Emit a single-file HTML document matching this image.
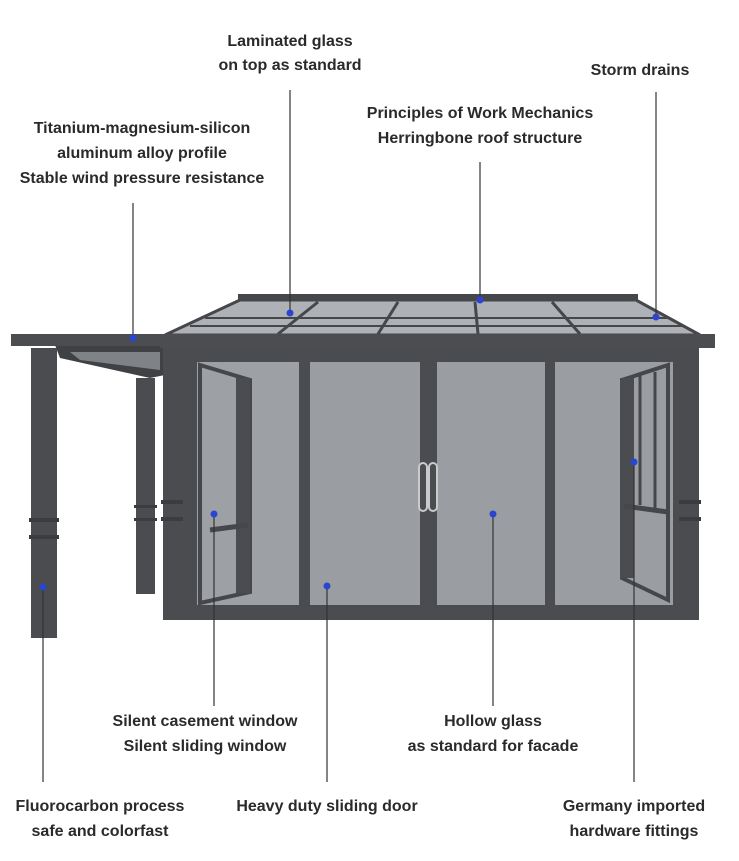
<!DOCTYPE html>
<html><head><meta charset="utf-8"><style>
html,body{margin:0;padding:0;background:#fff;}
svg{display:block;}
text{font-family:"Liberation Sans",sans-serif;font-size:16px;font-weight:bold;fill:#2a2a2a;text-anchor:middle;}
</style></head><body>
<svg width="739" height="861" viewBox="0 0 739 861" xmlns="http://www.w3.org/2000/svg">
<rect width="739" height="861" fill="#fff"/>
<!-- roof glass -->
<polygon points="240,300 636,300 700,335 165,335" fill="#aeb2b6" stroke="#45474b" stroke-width="3"/>
<rect x="238" y="294" width="400" height="7" fill="#45474b"/>
<line x1="205" y1="318" x2="668" y2="318" stroke="#45474b" stroke-width="2"/>
<line x1="190" y1="326" x2="684" y2="326" stroke="#45474b" stroke-width="2"/>
<g stroke="#45474b" stroke-width="3">
<line x1="318" y1="302" x2="278" y2="334"/>
<line x1="398" y1="302" x2="378" y2="334"/>
<line x1="475" y1="302" x2="478" y2="334"/>
<line x1="552" y1="302" x2="580" y2="334"/>
</g>
<!-- pergola -->
<polygon points="55,345 165,345 165,375 150,378 60,358" fill="#3f4145"/>
<polygon points="70,352 160,352 160,370 80,360" fill="#7f8387"/>
<rect x="11" y="334" width="160" height="12" fill="#4b4d51"/>
<rect x="31" y="348" width="26" height="290" fill="#4a4c50"/>
<rect x="29" y="518" width="30" height="4" fill="#3a3c40"/>
<rect x="29" y="535" width="30" height="4" fill="#3a3c40"/>
<rect x="136" y="378" width="19" height="216" fill="#4a4c50"/>
<rect x="134" y="505" width="23" height="3" fill="#3a3c40"/>
<rect x="134" y="518" width="23" height="3" fill="#3a3c40"/>
<!-- main cornice -->
<rect x="160" y="334" width="555" height="14" fill="#4b4d51"/>
<!-- columns -->
<rect x="163" y="348" width="20" height="272" fill="#4a4c50"/>
<rect x="161" y="500" width="24" height="4" fill="#3a3c40"/>
<rect x="161" y="517" width="24" height="4" fill="#3a3c40"/>
<rect x="679" y="348" width="20" height="272" fill="#4a4c50"/>
<rect x="677" y="500" width="24" height="4" fill="#3a3c40"/>
<rect x="677" y="517" width="24" height="4" fill="#3a3c40"/>
<!-- frame -->
<rect x="183" y="348" width="496" height="272" fill="#4a4c50"/>
<rect x="197" y="362" width="102" height="243" fill="#9da1a5"/>
<rect x="310" y="362" width="110" height="243" fill="#9a9ea2"/>
<rect x="437" y="362" width="108" height="243" fill="#9a9ea2"/>
<rect x="555" y="362" width="118" height="243" fill="#9a9ea2"/>
<!-- left casement -->
<polygon points="200,365 250,380 250,592 200,603" fill="none" stroke="#45474b" stroke-width="4"/>
<rect x="236" y="378" width="14" height="215" fill="#4a4c50"/>
<line x1="210" y1="530" x2="248" y2="525" stroke="#45474b" stroke-width="5"/>
<!-- right casement -->
<polygon points="668,365 622,380 622,578 668,600" fill="none" stroke="#45474b" stroke-width="4"/>
<rect x="620" y="378" width="14" height="200" fill="#4a4c50"/>
<line x1="640" y1="375" x2="640" y2="505" stroke="#45474b" stroke-width="3"/>
<line x1="655" y1="372" x2="655" y2="510" stroke="#45474b" stroke-width="3"/>
<line x1="624" y1="506" x2="668" y2="512" stroke="#45474b" stroke-width="5"/>
<!-- handle -->
<rect x="419" y="463" width="8" height="48" rx="4" fill="none" stroke="#c8cacc" stroke-width="2"/>
<rect x="429" y="463" width="8" height="48" rx="4" fill="none" stroke="#c8cacc" stroke-width="2"/>
<!-- leader lines -->
<g stroke="#333" stroke-width="1.2">
<line x1="290" y1="90" x2="290" y2="313"/>
<line x1="656" y1="92" x2="656" y2="317"/>
<line x1="480" y1="162" x2="480" y2="300"/>
<line x1="133" y1="203" x2="133" y2="338"/>
<line x1="214" y1="514" x2="214" y2="706"/>
<line x1="493" y1="514" x2="493" y2="706"/>
<line x1="43" y1="587" x2="43" y2="782"/>
<line x1="327" y1="586" x2="327" y2="782"/>
<line x1="634" y1="462" x2="634" y2="782"/>
</g>
<g fill="#2a45d0">
<circle cx="290" cy="313" r="3.5"/><circle cx="656" cy="317" r="3.5"/>
<circle cx="480" cy="300" r="3.5"/><circle cx="133" cy="338" r="3.5"/>
<circle cx="214" cy="514" r="3.5"/><circle cx="493" cy="514" r="3.5"/>
<circle cx="43" cy="587" r="3.5"/><circle cx="327" cy="586" r="3.5"/>
<circle cx="634" cy="462" r="3.5"/>
</g>
<!-- labels -->
<text x="290" y="46">Laminated glass</text>
<text x="290" y="70">on top as standard</text>
<text x="640" y="75">Storm drains</text>
<text x="480" y="118">Principles of Work Mechanics</text>
<text x="480" y="143">Herringbone roof structure</text>
<text x="142" y="133">Titanium-magnesium-silicon</text>
<text x="142" y="158">aluminum alloy profile</text>
<text x="142" y="183">Stable wind pressure resistance</text>
<text x="205" y="726">Silent casement window</text>
<text x="205" y="751">Silent sliding window</text>
<text x="493" y="726">Hollow glass</text>
<text x="493" y="751">as standard for facade</text>
<text x="100" y="811">Fluorocarbon process</text>
<text x="100" y="836">safe and colorfast</text>
<text x="327" y="811">Heavy duty sliding door</text>
<text x="634" y="811">Germany imported</text>
<text x="634" y="836">hardware fittings</text>
</svg>
</body></html>
